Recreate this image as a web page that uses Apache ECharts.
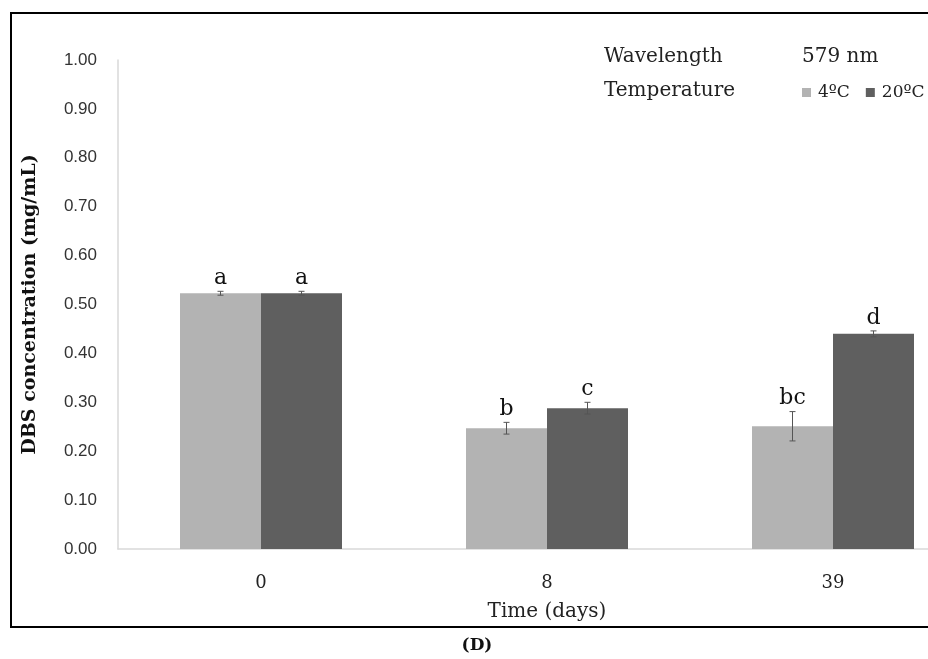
<!DOCTYPE html>
<html>
<head>
<meta charset="utf-8">
<script src="https://cdn.jsdelivr.net/npm/echarts@6/dist/echarts.min.js"></script>
<style>
  html, body { margin: 0; padding: 0; background: #fff; }
  #chart { width: 928px; height: 659px; }
</style>
</head>
<body>
<div id="chart"></div>
<script>
// Storage time (days)
const categories = ['0', '8', '39'];
// DBS concentration (mg/mL) at 4ºC and 20ºC, with standard deviations
const cold = [0.523, 0.247, 0.251];
const coldErr = [0.004, 0.012, 0.030];
const warm = [0.523, 0.288, 0.440];
const warmErr = [0.004, 0.012, 0.006];
// Significance groups
const coldLetters = ['a', 'b', 'bc'];
const warmLetters = ['a', 'c', 'd'];
// Y axis ticks
const yTicks = [0, 0.1, 0.2, 0.3, 0.4, 0.5, 0.6, 0.7, 0.8, 0.9, 1.0];

const serif = '"DejaVu Serif", "Liberation Serif", serif';
const BAR_W = 81;

function errSeries(values, errs, letters, offset) {
  return {
    type: 'custom',
    z: 5,
    data: values.map((v, i) => [i, v, errs[i]]),
    renderItem: function (params, api) {
      const i = api.value(0), v = api.value(1), e = api.value(2);
      const top = api.coord([i, v + e]);
      const bot = api.coord([i, v - e]);
      const x = top[0] + offset;
      const c = { stroke: '#555', lineWidth: 1 };
      return {
        type: 'group',
        children: [
          { type: 'line', shape: { x1: x, y1: top[1], x2: x, y2: bot[1] }, style: c },
          { type: 'line', shape: { x1: x - 3, y1: top[1], x2: x + 3, y2: top[1] }, style: c },
          { type: 'line', shape: { x1: x - 3, y1: bot[1], x2: x + 3, y2: bot[1] }, style: c },
          { type: 'text', x: x, y: top[1] - 2,
            style: { text: letters[i], font: '22px ' + serif, fill: '#111',
                     align: 'center', verticalAlign: 'bottom' } }
        ]
      };
    }
  };
}

const chart = echarts.init(document.getElementById('chart'));
chart.setOption({
  animation: false,
  backgroundColor: '#fff',
  title: [
    { text: 'Wavelength', left: 599, top: 42, textStyle: { fontFamily: serif, fontSize: 20, fontWeight: 'normal', color: '#222' } },
    { text: '579 nm', left: 797, top: 42, textStyle: { fontFamily: serif, fontSize: 20, fontWeight: 'normal', color: '#222' } },
    { text: 'Temperature', left: 599, top: 76, textStyle: { fontFamily: serif, fontSize: 20, fontWeight: 'normal', color: '#222' } },
    { text: '{p|(}{b|D}{p|)}', left: 472, top: 632, textAlign: 'center',
      textStyle: { rich: {
        p: { fontFamily: serif, fontSize: 17, color: '#111' },
        b: { fontFamily: serif, fontSize: 17, fontWeight: 'bold', color: '#111' }
      } } }
  ],
  legend: {
    orient: 'horizontal',
    left: 802, top: 84,
    width: 140,
    padding: 0,
    itemWidth: 9, itemHeight: 9, itemGap: 16,
    icon: 'rect',
    textStyle: { fontFamily: serif, fontSize: 17, color: '#222', padding: [0, 0, 0, 2] },
    data: ['4ºC', '20ºC']
  },
  graphic: [
    { type: 'rect', shape: { x: 11, y: 13, width: 1000, height: 614 },
      style: { fill: 'none', stroke: '#000', lineWidth: 2 }, silent: true }
  ],
  grid: { left: 118, top: 60, width: 858, height: 489, containLabel: false, outerBoundsMode: 'none' },
  xAxis: {
    type: 'category',
    data: categories,
    name: 'Time (days)',
    nameLocation: 'middle',
    nameGap: 53,
    nameTextStyle: { fontFamily: serif, fontSize: 20, color: '#222' },
    axisLine: { lineStyle: { color: '#d9d9d9', width: 1.5 } },
    axisTick: { show: false },
    axisLabel: { fontFamily: serif, fontSize: 18, color: '#222', margin: 25 }
  },
  yAxis: {
    type: 'value',
    min: 0, max: 1, interval: 0.1,
    name: 'DBS concentration (mg/mL)',
    nameLocation: 'middle',
    nameGap: 78,
    nameTextStyle: { fontFamily: serif, fontSize: 19, fontWeight: 'bold', color: '#111' },
    axisLine: { show: true, lineStyle: { color: '#d9d9d9', width: 1.5 } },
    axisTick: { show: false },
    splitLine: { show: false },
    axisLabel: {
      fontFamily: '"Liberation Sans", Arial, sans-serif', fontSize: 17, color: '#333', margin: 21,
      formatter: v => yTicks.some(t => Math.abs(t - v) < 1e-9) ? v.toFixed(2) : ''
    }
  },
  series: [
    { name: '4ºC', type: 'bar', data: cold, barWidth: BAR_W, barGap: '0%',
      itemStyle: { color: '#b3b3b3' } },
    { name: '20ºC', type: 'bar', data: warm, barWidth: BAR_W, barGap: '0%',
      itemStyle: { color: '#5f5f5f' } },
    errSeries(cold, coldErr, coldLetters, -BAR_W / 2),
    errSeries(warm, warmErr, warmLetters, BAR_W / 2)
  ]
});
</script>
</body>
</html>
